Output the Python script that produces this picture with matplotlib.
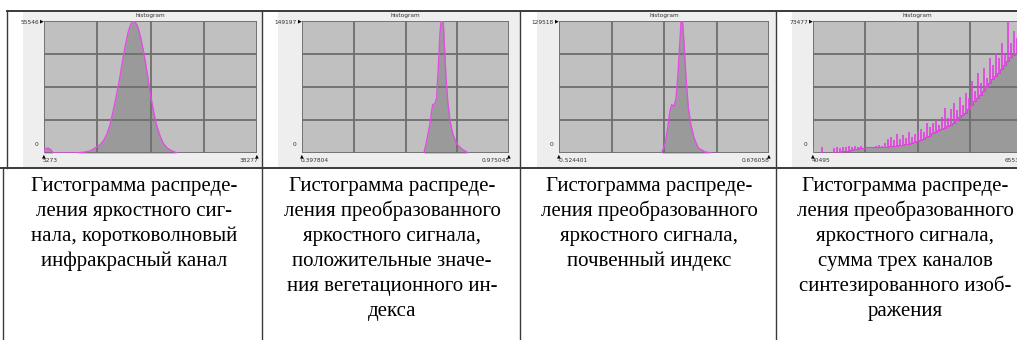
import numpy as np
import matplotlib
matplotlib.use('Agg')
import matplotlib.pyplot as plt
from matplotlib.patches import Rectangle

W, H = 1017, 340

# ---- data ----
# panel 1: shortwave infrared channel
swir_x = [5273, 5430, 5890, 6360, 6670, 10080, 11630, 12400, 13180, 13950, 14570,
          15040, 15500, 15970, 16430, 16740, 17050, 17360, 17670, 17980, 18290,
          18600, 18910, 19070, 19380, 19690, 20000, 20310, 20620, 20930, 21240,
          21550, 21860, 22170, 22480, 22790, 23250, 23720, 24340, 25110, 25890]
swir_y = [0, 1700, 2100, 1300, 0, 0, 400, 850, 2100, 3400, 5500,
          8100, 11900, 17400, 23300, 27600, 32200, 37300, 42400, 46600, 50500,
          53400, 55100, 55546, 55100, 53800, 51300, 47900, 43700, 39000, 33900,
          28400, 23300, 18700, 14400, 11000, 7200, 4200, 2100, 850, 0]

# panel 2: vegetation index, positive values
ndvi_x = [0.7380, 0.7455, 0.7547, 0.7595, 0.7623, 0.7687, 0.7734, 0.7779, 0.7826,
          0.7854, 0.7874, 0.7918, 0.7946, 0.7994, 0.8041, 0.8105, 0.8181, 0.8292,
          0.8432, 0.8571, 0.8607]
ndvi_y = [0, 13700, 33000, 47800, 54700, 55800, 62600, 96800, 135500,
          148100, 149197, 148100, 124100, 85400, 59200, 36400, 21600, 10300,
          4600, 1100, 0]

# panel 3: soil index
soil_x = [0.0627, 0.0816, 0.0970, 0.1101, 0.1199, 0.1330, 0.1444, 0.1559, 0.1673,
          0.1730, 0.1770, 0.1827, 0.1902, 0.2016, 0.2147, 0.2285, 0.2473, 0.2719,
          0.3102, 0.3485]
soil_y = [0, 8900, 24700, 41500, 47500, 45500, 53400, 78100, 110700,
          128500, 129518, 127500, 107800, 74200, 44500, 28700, 14800, 4900,
          1000, 0]

# panel 4: sum of three channels (noisy) - lower envelope and spike tops per bin
sum_x = [40495, 40854, 41214, 41573, 41933, 42292, 42651, 43011, 43370, 43730,
         44089, 44448, 44808, 45167, 45527, 45886, 46245, 46605, 46964, 47324,
         47683, 48042, 48402, 48761, 49121, 49480, 49839, 50199, 50558, 50918,
         51277, 51636, 51996, 52355, 52715, 53074, 53433, 53793, 54152, 54512,
         54871, 55230, 55590, 55949, 56309, 56668, 57027, 57387, 57746, 58106,
         58465, 58824, 59184, 59543, 59903, 60262, 60621, 60981, 61340, 61700,
         62059, 62418, 62778, 63137, 63497, 63856, 64215, 64575, 64934]
sum_low = [0, 0, 0, 0, 0, 0, 0, 0, 0, 0,
           1100, 1100, 1100, 1700, 2200, 2200, 2800, 2800, 3300, 3300,
           3300, 3300, 3300, 3300, 3300, 3300, 3900, 3900, 3900, 4500,
           4500, 5000, 5000, 5600, 6100, 6700, 7200, 7800, 8900, 9500,
           11100, 11700, 12800, 13400, 13900, 15000, 15600, 16700, 18400, 20000,
           21200, 22300, 24500, 26700, 28900, 30600, 32300, 34500, 36700, 39000,
           41200, 42900, 44500, 46800, 49000, 51200, 53400, 54500, 55700]
sum_high = [3300, 0, 0, 3300, 0, 0, 0, 2800, 3300, 2800,
            3300, 3300, 3900, 3300, 3900, 3300, 3900, 2800, 3300, 3300,
            3300, 3900, 4500, 3900, 5600, 7800, 8900, 7200, 10600, 7800,
            10000, 8300, 11700, 8900, 10600, 12200, 13400, 11700, 16700, 14500,
            16700, 18900, 15600, 20000, 25000, 19500, 24500, 27800, 23900, 31200,
            26700, 33400, 30600, 40100, 34500, 44500, 39000, 47300, 41700, 52900,
            49000, 55700, 52900, 61200, 55700, 73471, 61200, 67900, 64000]

panels = [
    dict(x=swir_x, y=swir_y, xmin=5273, xmax=38277, ymax=55546,
         lo_lbl='5273', hi_lbl='38277', top_lbl='55546'),
    dict(x=ndvi_x, y=ndvi_y, xmin=0.397804, xmax=0.975045, ymax=149197,
         lo_lbl='0.397804', hi_lbl='0.975045', top_lbl='149197'),
    dict(x=soil_x, y=soil_y, xmin=-0.524401, xmax=0.676058, ymax=129518,
         lo_lbl='-0.524401', hi_lbl='0.676058', top_lbl='129518'),
    dict(x=sum_x, y=None, xmin=40495, xmax=65535, ymax=73477,
         lo_lbl='40495', hi_lbl='65535', top_lbl='73477'),
]

captions = [
    ['Гистограмма распреде-', 'ления яркостного сиг-',
     'нала, коротковолновый', 'инфракрасный канал'],
    ['Гистограмма распреде-', 'ления преобразованного', 'яркостного сигнала,',
     'положительные значе-', 'ния вегетационного ин-', 'декса'],
    ['Гистограмма распреде-', 'ления преобразованного', 'яркостного сигнала,',
     'почвенный индекс'],
    ['Гистограмма распреде-', 'ления преобразованного', 'яркостного сигнала,',
     'сумма трех каналов', 'синтезированного изоб-', 'ражения'],
]

# layout in pixels: (frame left, light bg left, plot left, plot right, cell right, caption centre)
layout = [(7, 23, 44, 257, 262, 134),
          (262, 278, 302, 509, 520, 392),
          (520, 537, 559, 769, 776, 649),
          (777, 792, 813, 1022, 1040, 905)]

fig = plt.figure(figsize=(W / 100, H / 100), dpi=100)
bg = fig.add_axes([0, 0, 1, 1])
bg.set_xlim(0, W)
bg.set_ylim(H, 0)
bg.axis('off')

PT, PB = 21, 153
small = dict(fontsize=4.2, color='#333333', family='DejaVu Sans')

for p, (fl, ll, pl, pr, cr, cc), cap in zip(panels, layout, captions):
    # screenshot background
    bg.add_patch(Rectangle((ll, 12), cr - ll, 155, color='#eeeeee', lw=0))
    bg.text((pl + pr) / 2, 16, 'histogram', ha='center', va='center', **small)
    bg.text(pl - 5, PT + 1, p['top_lbl'], ha='right', va='center', **small)
    bg.text(pl - 2.5, PT, '▶', ha='center', va='center', fontsize=3.5, color='black')
    bg.text(pl - 6, PB - 8, '0', ha='right', va='center', **small)
    bg.text(pl, PB + 3, '▲', ha='center', va='center', fontsize=3.5, color='black')
    bg.text(pr, PB + 3, '▲', ha='center', va='center', fontsize=3.5, color='black')
    bg.text(pl - 1, PB + 8, p['lo_lbl'], ha='left', va='center', **small)
    bg.text(pr + 1, PB + 8, p['hi_lbl'], ha='right', va='center', **small)

    ax = fig.add_axes([pl / W, 1 - PB / H, (pr - pl) / W, (PB - PT) / H])
    ax.set_facecolor('#c0c0c0')
    ax.set_xlim(p['xmin'], p['xmax'])
    ax.set_ylim(0, p['ymax'])
    ax.set_xticks(np.linspace(p['xmin'], p['xmax'], 5))
    ax.set_yticks(np.linspace(0, p['ymax'], 5))
    ax.tick_params(length=0, labelbottom=False, labelleft=False)
    ax.grid(True, color='#6e6e6e', lw=1.3)
    ax.set_axisbelow(False)
    for s in ax.spines.values():
        s.set_visible(False)

    if p['y'] is not None:
        ax.fill_between(p['x'], p['y'], color='#9a9a9a', lw=0, zorder=1)
        ax.plot(p['x'], p['y'], color='#e24de2', lw=1.0, zorder=3)
    else:
        ax.fill_between(sum_x, sum_low, step='mid', color='#9a9a9a', lw=0, zorder=1)
        ax.vlines(sum_x, sum_low, sum_high, color='#e040e0', lw=1.2, zorder=3)
        ax.step(sum_x, sum_low, where='mid', color='#e040e0', lw=0.8, zorder=3)

    # captions
    for i, line in enumerate(cap):
        bg.text(cc, 191 + i * 25, line, ha='center', va='baseline',
                fontsize=15, family='Liberation Serif', color='black')

# table lines
lc = '#3a3a3a'
bg.plot([7, W], [11, 11], color=lc, lw=1.4)
bg.plot([0, W], [168, 168], color=lc, lw=1.4)
bg.plot([7, 7], [11, 168], color=lc, lw=1.0)
bg.plot([3, 3], [168, H], color=lc, lw=1.0)
for x in [262, 520, 776]:
    bg.plot([x, x], [11, H], color=lc, lw=1.0)

fig.savefig('out.png', dpi=100)
